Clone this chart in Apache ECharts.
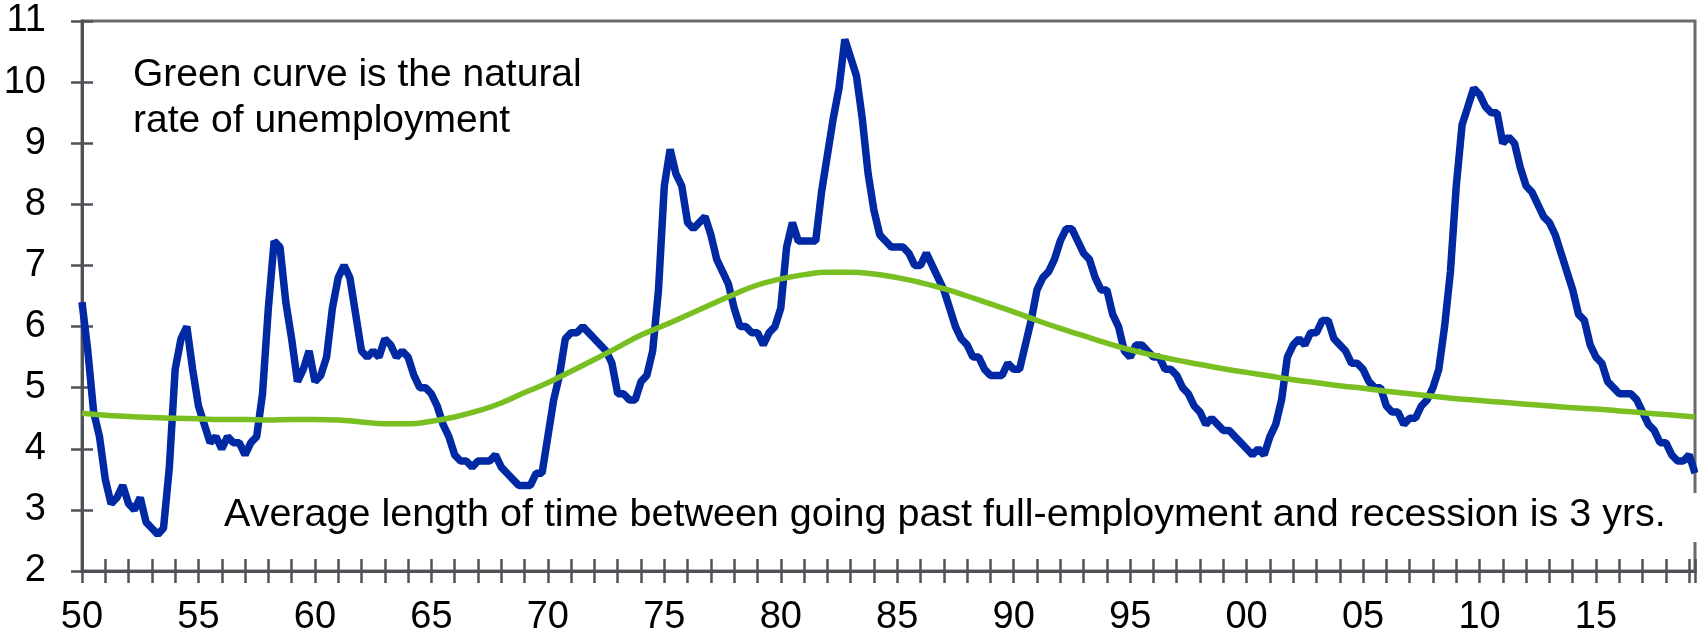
<!DOCTYPE html>
<html lang="en">
<head>
    <meta charset="UTF-8">
    <title>Unemployment rate and natural rate</title>
    <script src="https://cdn.jsdelivr.net/npm/echarts@6/dist/echarts.min.js"></script>
</head>
<body style="margin: 0">
<div id="chart" style="width: 1698px;height: 637px"></div>

<script>
    // unemployment rate, quarterly, 1950Q1 .. 2019Q2 (one row per year)
    let firstYear = 1950;
    let unemployment = [
        6.4, 5.6, 4.6, 4.2,   3.5, 3.1, 3.2, 3.4,   3.1, 3.0, 3.2, 2.8,   2.7, 2.6, 2.7, 3.7,
        5.3, 5.8, 6.0, 5.3,   4.7, 4.4, 4.1, 4.2,   4.0, 4.2, 4.1, 4.1,   3.9, 4.1, 4.2, 4.9,
        6.3, 7.4, 7.3, 6.4,   5.8, 5.1, 5.3, 5.6,   5.1, 5.2, 5.5, 6.3,   6.8, 7.0, 6.8, 6.2,
        5.6, 5.5, 5.6, 5.5,   5.8, 5.7, 5.5, 5.6,   5.5, 5.2, 5.0, 5.0,   4.9, 4.7, 4.4, 4.2,
        3.9, 3.8, 3.8, 3.7,   3.8, 3.8, 3.8, 3.9,   3.7, 3.6, 3.5, 3.4,   3.4, 3.4, 3.6, 3.6,
        4.2, 4.8, 5.2, 5.8,   5.9, 5.9, 6.0, 5.9,   5.8, 5.7, 5.6, 5.4,   4.9, 4.9, 4.8, 4.8,
        5.1, 5.2, 5.6, 6.6,   8.3, 8.9, 8.5, 8.3,   7.7, 7.6, 7.7, 7.8,   7.5, 7.1, 6.9, 6.7,
        6.3, 6.0, 6.0, 5.9,   5.9, 5.7, 5.9, 6.0,   6.3, 7.3, 7.7, 7.4,   7.4, 7.4, 7.4, 8.2,
        8.8, 9.4, 9.9, 10.7,  10.4, 10.1, 9.4, 8.5, 7.9, 7.5, 7.4, 7.3,   7.3, 7.3, 7.2, 7.0,
        7.0, 7.2, 7.0, 6.8,   6.6, 6.3, 6.0, 5.8,   5.7, 5.5, 5.5, 5.3,   5.2, 5.2, 5.2, 5.4,
        5.3, 5.3, 5.7, 6.1,   6.6, 6.8, 6.9, 7.1,   7.4, 7.6, 7.6, 7.4,   7.2, 7.1, 6.8, 6.6,
        6.6, 6.2, 6.0, 5.6,   5.5, 5.7, 5.7, 5.6,   5.5, 5.5, 5.3, 5.3,   5.2, 5.0, 4.9, 4.7,
        4.6, 4.4, 4.5, 4.4,   4.3, 4.3, 4.2, 4.1,   4.0, 3.9, 4.0, 3.9,   4.2, 4.4, 4.8, 5.5,
        5.7, 5.8, 5.7, 5.9,   5.9, 6.1, 6.1, 5.8,   5.7, 5.6, 5.4, 5.4,   5.3, 5.1, 5.0, 5.0,
        4.7, 4.6, 4.6, 4.4,   4.5, 4.5, 4.7, 4.8,   5.0, 5.3, 6.0, 6.9,   8.3, 9.3, 9.6, 9.9,
        9.8, 9.6, 9.5, 9.5,   9.0, 9.1, 9.0, 8.6,   8.3, 8.2, 8.0, 7.8,   7.7, 7.5, 7.2, 6.9,
        6.6, 6.2, 6.1, 5.7,   5.5, 5.4, 5.1, 5.0,   4.9, 4.9, 4.9, 4.8,   4.6, 4.4, 4.3, 4.1,
        4.1, 3.9, 3.8, 3.8,   3.9, 3.6
    ];

    // natural rate of unemployment, start of each year 1950 .. 2019, then the right edge
    let naturalRate = [
        4.58, 4.55, 4.53, 4.51, 4.50, 4.49, 4.48, 4.48, 4.47, 4.48,
        4.48, 4.47, 4.44, 4.41, 4.41, 4.45, 4.52, 4.62, 4.75, 4.92,
        5.08, 5.27, 5.46, 5.66, 5.86, 6.02, 6.19, 6.36, 6.53, 6.68,
        6.78, 6.85, 6.89, 6.89, 6.86, 6.80, 6.72, 6.62, 6.50, 6.37,
        6.24, 6.10, 5.97, 5.85, 5.73, 5.62, 5.53, 5.45, 5.38, 5.31,
        5.25, 5.19, 5.13, 5.08, 5.03, 4.99, 4.94, 4.90, 4.86, 4.82,
        4.79, 4.76, 4.73, 4.70, 4.67, 4.65, 4.62, 4.59, 4.56, 4.53
    ];
    let naturalRateEnd = [2019.25, 4.52];

    let labelYears = [1950, 1955, 1960, 1965, 1970, 1975, 1980, 1985, 1990, 1995, 2000, 2005, 2010, 2015];
    let labelTexts = ['50', '55', '60', '65', '70', '75', '80', '85', '90', '95', '00', '05', '10', '15'];

    let blueData = unemployment.map((v, i) => [firstYear + i / 4, v]);
    let greenData = naturalRate.map((v, i) => [firstYear + i, v]);
    greenData.push(naturalRateEnd);

    let axisColor = '#4f5358';
    let font = '"Liberation Sans", Arial, sans-serif';

    let chart = echarts.init(document.getElementById('chart'));
    let xBase = {
        type: 'value',
        min: 1950,
        max: 2019.25,
        interval: 1,
        splitLine: { show: false },
        axisLine: { show: true, lineStyle: { color: axisColor, width: 3 } },
        axisTick: { show: true, length: 12, lineStyle: { color: axisColor, width: 2.5 } }
    };
    let yBase = {
        type: 'value',
        min: 2,
        max: 11,
        interval: 1,
        splitLine: { show: false },
        axisLine: { show: true, lineStyle: { color: axisColor, width: 3 } },
        axisTick: { show: true, length: 11, lineStyle: { color: axisColor, width: 2.5 } }
    };

    let option = {
        animation: false,
        grid: {
            left: 82, right: 1, top: 21, bottom: 66,
            show: true,
            borderColor: '#6a6a6a',
            borderWidth: 3,
            backgroundColor: 'transparent'
        },
        xAxis: [
            Object.assign({}, xBase, {
                axisLabel: {
                    margin: 28,
                    fontSize: 38,
                    fontFamily: font,
                    color: '#000',
                    formatter: function (v) {
                        let k = labelYears.indexOf(v);
                        return k >= 0 ? labelTexts[k] : '';
                    }
                }
            }),
            Object.assign({}, xBase, {
                position: 'bottom',
                axisLabel: { show: false },
                axisTick: { show: true, inside: true, length: 12, lineStyle: { color: axisColor, width: 2.5 } }
            })
        ],
        yAxis: [
            Object.assign({}, yBase, {
                axisLabel: { margin: 36, fontSize: 38, fontFamily: font, color: '#000' }
            }),
            Object.assign({}, yBase, {
                position: 'left',
                axisLabel: { show: false },
                axisTick: { show: true, inside: true, length: 11, lineStyle: { color: axisColor, width: 2.5 } }
            })
        ],
        graphic: [
            {
                type: 'text',
                left: 133,
                top: 52,
                z: 100,
                style: {
                    text: 'Green curve is the natural\nrate of unemployment',
                    font: '39px ' + font,
                    fill: '#000',
                    lineHeight: 46
                }
            },
            {
                type: 'text',
                left: 220,
                top: 493,
                z: 100,
                style: {
                    text: 'Average length of time between going past full-employment and recession is 3 yrs.',
                    font: '39.5px ' + font,
                    fill: '#000',
                    lineHeight: 42,
                    backgroundColor: '#fff',
                    padding: [1, 60, 6, 4]
                }
            }
        ],
        series: [
            {
                name: 'Unemployment rate',
                type: 'line',
                data: blueData,
                showSymbol: false,
                lineStyle: { color: '#0029a3', width: 7.5 },
                z: 3
            },
            {
                name: 'Natural rate',
                type: 'line',
                data: greenData,
                smooth: true,
                showSymbol: false,
                lineStyle: { color: '#7abf22', width: 5.5 },
                z: 4
            }
        ]
    };
    chart.setOption(option);
</script>
</body>
</html>
